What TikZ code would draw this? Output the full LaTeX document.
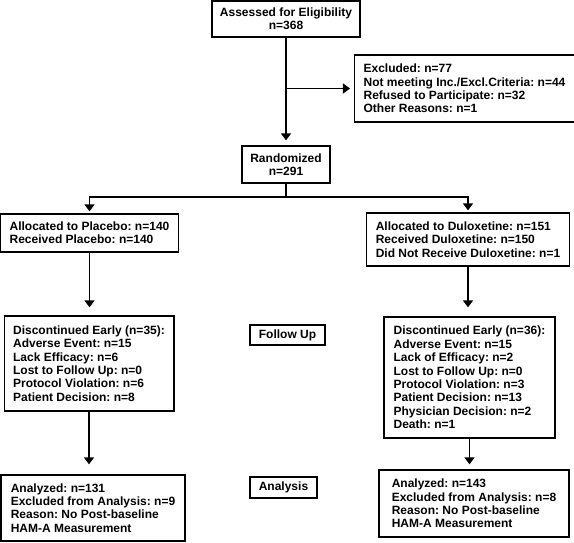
\documentclass[tikz,border=0pt]{standalone}
\usepackage{fontspec}
\setmainfont{Liberation Sans}
\frenchspacing
\usetikzlibrary{arrows.meta, positioning}
\tikzstyle{box} = [rectangle, draw = black, line width = 1.3pt,
  inner xsep = 9pt, inner ysep = 0pt, align = left,
  font = \fontsize{12}{13.4}\selectfont\bfseries]
\tikzstyle{cbox} = [
  rectangle, draw = black, line width = 1.3pt,
  inner sep = 0pt, align = center,
  font = \fontsize{12}{13.4}\selectfont\bfseries
]
\tikzstyle{arr} = [-{Triangle[width = 10pt, length = 7pt]}, line width = 1.3pt]

\begin{document}
\begin{tikzpicture}[x = 1pt, y = -1pt]
      \useasboundingbox (0, 0) rectangle (574, 542);
      % enrollment
      \node [cbox, minimum width = 148pt, minimum height = 36pt] (box-assess)
        at (286, 19) {Assessed for Eligibility\\n=368};
      \node [box, minimum width = 215pt, minimum height = 67pt] (box-excl)
        at (464.5, 88.5) {Excluded: n=77\\Not meeting Inc./Excl.Criteria: n=44\\
        Refused to Participate: n=32\\Other Reasons: n=1};
      \node [cbox, minimum width = 88pt, minimum height = 37pt] (box-rand)
        at (286, 164.5) {Randomized\\n=291};
      % allocation
      \node [box, minimum width = 175pt, minimum height = 38pt] (box-plac)
        at (89.5, 233) {Allocated to Placebo: n=140\\Received Placebo: n=140};
      \node [box, minimum width = 200pt, minimum height = 53pt] (box-dulox)
        at (468, 239.5) {Allocated to Duloxetine: n=151\\Received Duloxetine: n=150\\
        Did Not Receive Duloxetine: n=1};
      % follow up
      \node [box, minimum width = 168pt, minimum height = 95pt] (box-discL)
        at (89, 363.5) {Discontinued Early (n=35):\\Adverse Event: n=15\\
        Lack Efficacy: n=6\\Lost to Follow Up: n=0\\Protocol Violation: n=6\\
        Patient Decision: n=8};
      \node [cbox, minimum width = 75pt, minimum height = 20pt] (box-follow)
        at (287.5, 335) {Follow Up};
      \node [box, minimum width = 171pt, minimum height = 121pt] (box-discR)
        at (469.5, 377.5) {Discontinued Early (n=36):\\Adverse Event: n=15\\
        Lack of Efficacy: n=2\\Lost to Follow Up: n=0\\Protocol Violation: n=3\\
        Patient Decision: n=13\\Physician Decision: n=2\\Death: n=1};
      % analysis
      \node [box, minimum width = 184pt, minimum height = 66pt] (box-anaL)
        at (93, 508) {Analyzed: n=131\\Excluded from Analysis: n=9\\
        Reason: No Post-baseline\\HAM-A Measurement};
      \node [cbox, minimum width = 67pt, minimum height = 21pt] (box-analysis)
        at (283.5, 487.5) {Analysis};
      \node [box, minimum width = 190pt, minimum height = 67pt] (box-anaR)
        at (474, 503.5) {Analyzed: n=143\\Excluded from Analysis: n=8\\
        Reason: No Post-baseline\\HAM-A Measurement};

      \coordinate (rand-split) at (286, 197);

      \draw [arr, shorten > = 5pt] (box-assess) -- (box-rand);
      \draw [arr, shorten > = 4pt] (box-assess.south |- box-excl.west) -- (box-excl.west);
      \draw [line width = 1.3pt] (box-rand) -- (rand-split);
      \draw [arr, shorten > = 2pt] (rand-split) -| (box-plac);
      \draw [arr, shorten > = 2pt] (rand-split) -| (box-dulox);
      \draw [arr, shorten > = 8pt] (box-plac) -- (box-plac |- box-discL.north);
      \draw [arr, shorten > = 9pt] (box-dulox) -- (box-dulox |- box-discR.north);
      \draw [arr, shorten > = 10pt] (box-discL) -- (box-discL |- box-anaL.north);
      \draw [arr, shorten > = 5pt] (box-discR) -- (box-discR |- box-anaR.north);
    \end{tikzpicture}
\end{document}
